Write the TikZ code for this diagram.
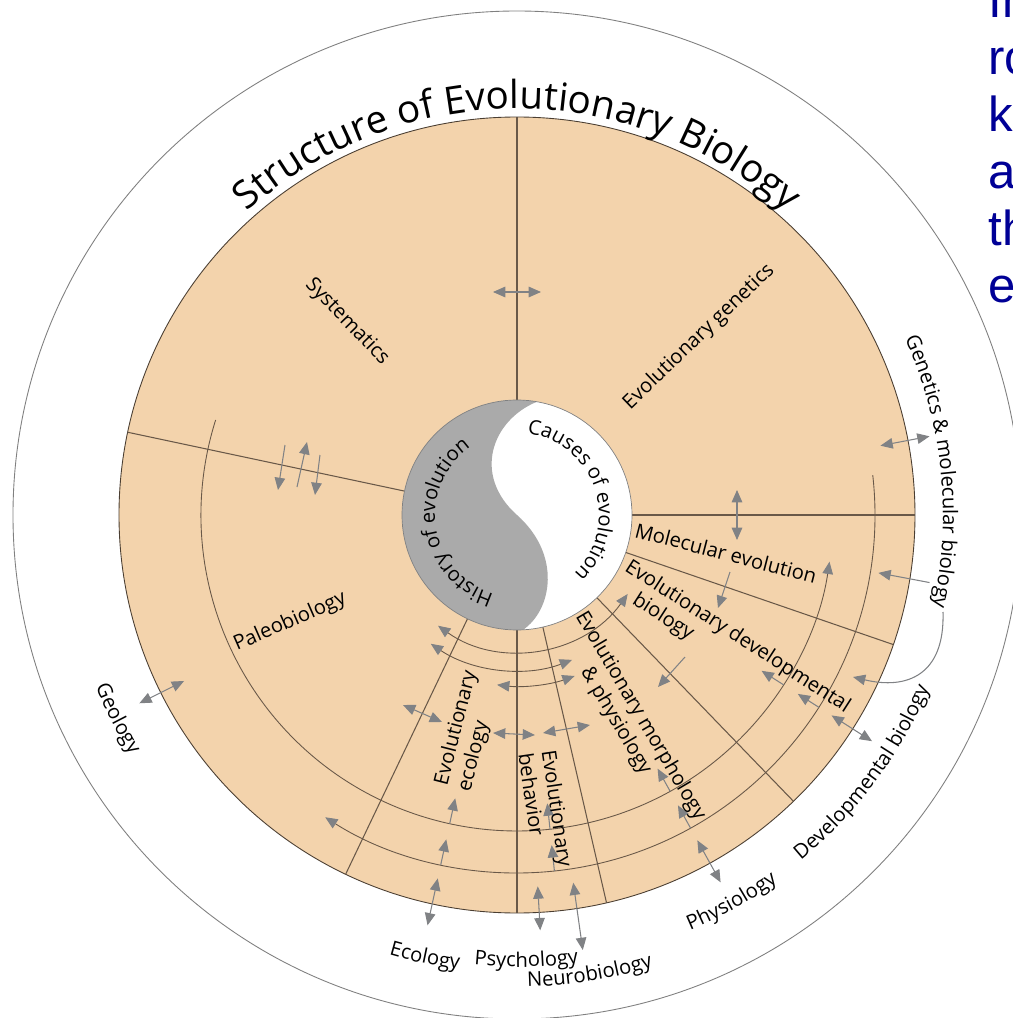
\documentclass[tikz,border=0pt]{standalone}
\usepackage{fontspec}
\setmainfont{Open Sans}
\newfontfamily\notefont{Liberation Sans}
\usetikzlibrary{arrows.meta,decorations.text}

\definecolor{discfill}{RGB}{243,211,172}
\definecolor{rule}{RGB}{105,88,72}
\definecolor{arrowgray}{RGB}{128,130,133}
\definecolor{yingray}{RGB}{170,170,170}
\definecolor{noteblue}{RGB}{0,0,150}
\newcommand\lblfont{\fontsize{11.5}{13.5}\selectfont}
\newcommand\titlefont{\fontsize{22}{26}\selectfont}

\begin{document}
\begin{tikzpicture}[x=0.02cm,y=0.02cm,>={Triangle[length=7pt,width=6pt,color=arrowgray]}]
\tikzstyle{divider} = [draw=rule, line width=.6pt]
\tikzstyle{track} = [draw=rule, line width=.5pt]
\tikzstyle{link} = [draw=arrowgray, line width=.6pt, <->]
\tikzstyle{feed} = [draw=arrowgray, line width=.6pt, ->]
\tikzstyle{field} = [font=\lblfont, inner sep=0pt, align=left]
\tikzstyle{note} = [font=\notefont\fontsize{28}{32}\selectfont, text=noteblue, inner sep=0pt]
\tikzstyle{ringtext} = [decorate, decoration={text along path, text align=center}]

\useasboundingbox[fill=white] (-517,-503) rectangle (496,515);

% rings
\draw[gray, line width=.5pt] (0,0) circle[radius=504];
\draw[draw=rule!70!black, fill=discfill, line width=.5pt] (0,0) circle[radius=398];

% sector borders
\draw[divider] (90:115) -- (90:398);
\draw[divider] (168:115) -- (168:398);
\draw[divider] (0:115) -- (0:398);
\draw[divider] (-19:115) -- (-19:398);
\draw[divider] (-46:115) -- (-46:398);
\draw[divider] (-77:115) -- (-77:398);
\draw[divider] (-90:115) -- (-90:398);
\draw[divider] (-115.5:115) -- (-115.5:398);

% yin and yang
\fill[white] (0,0) circle[radius=115];
\fill[yingray] (80:115) arc[start angle=80, end angle=273, radius=115]
  .. controls (35,-95) and (45,-40) .. (0,0)
  .. controls (-45,40) and (-25,95) .. cycle;
\draw[gray, line width=.4pt] (0,0) circle[radius=115];
\path[ringtext, decoration={text={|\lblfont|History of evolution}}]
  (269:82) arc[start angle=269, end angle=109, radius=82];
\path[ringtext, decoration={text={|\lblfont|Causes of evolution}}]
  (98.5:82) arc[start angle=98.5, end angle=-61.5, radius=82];

% the two long tracks
\draw[track, ->] (162.5:316) arc[start angle=162.5, end angle=351.5, radius=316];
\draw[track, ->] (6.4:358) arc[start angle=6.4, end angle=-122.4, radius=358];

% inner tracks
\draw[track, <->] (-125.5:136) arc[start angle=-125.5, end angle=-35.5, radius=136];
\draw[track, <->] (-123.8:155) arc[start angle=-123.8, end angle=-69.2, radius=155];
\draw[track, <->] (-96.7:171) arc[start angle=-96.7, end angle=-70.3, radius=171];

% links between fields
\draw[link] (-24,223) -- (24,223);
\draw[feed] (-232,70) -- (-239,25);
\draw[feed] (-220,28) -- (-210,73);
\draw[feed] (-197,60) -- (-202,20);
\draw[link] (-114,-190) -- (-75,-207);
\draw[link] (-24,-218) -- (18,-220);
\draw[link] (26,-218) -- (73,-210);
\draw[feed] (168,-142) -- (141,-172);
\draw[feed] (213,-57) -- (201,-93);
\draw[link] (220,25) -- (220,-25);

% feeds from the tracks and links to outside fields
\draw[feed] (-102.3:316) -- (-102.3:290);
\draw[feed] (-102.3:358) -- (-102.3:332);
\draw[link] (-102.3:372) -- (-102.3:420);
\draw[feed] (-84:316) -- (-84:290);
\draw[feed] (-84:358) -- (-84:332);
\draw[link] (-86.8:372) -- (-86.8:416);
\draw[link] (-81.3:372) -- (-81.4:440);
\draw[feed] (-61:316) -- (-61:290);
\draw[feed] (-61:358) -- (-61:332);
\draw[link] (-61:372) -- (-61:420);
\draw[feed] (-32.5:316) -- (-32.5:290);
\draw[feed] (-32.5:358) -- (-32.5:333);
\draw[link] (-32.5:373) -- (-32.5:421);
\draw[link] (10.8:370) -- (10.8:420);
\draw[feed] (-9.3:418) -- (-9.1:366);
\draw[feed] (426,-97) .. controls (428,-160) and (390,-175) .. (336,-162);
\draw[link] (206.5:372) -- (206.5:422);

% fields
\node[field, rotate=-46] (syst) at (-170,193) {Systematics};
\node[field, rotate=43.8] (evogen) at (182,178) {Evolutionary genetics};
\node[field, rotate=23.7] (paleo) at (-227,-107) {Paleobiology};
\node[field, rotate=-14.5] (molev) at (209,-38) {Molecular evolution};
\node[field, rotate=-32.8] (evodevo) at (214,-132) {Evolutionary developmental\\\hspace*{1.2em}biology};
\node[field, rotate=-59.5] (evomorph) at (113,-207) {Evolutionary morphology\\\hspace*{2.5em}\& physiology};
\node[field, rotate=75.7] (evoeco) at (-49,-216) {Evolutionary\\ecology};
\node[field, rotate=-81.7] (evobeh) at (29,-295) {Evolutionary\\behavior};

% outside fields
\path[ringtext, decoration={text={|\titlefont|Structure of Evolutionary Biology}}]
  (150:406) arc[start angle=150, end angle=30, radius=406];
\path[ringtext, decoration={text={|\lblfont|Genetics {\&} molecular biology}}]
  (40:426) arc[start angle=40, end angle=-28, radius=426];
\path[ringtext, decoration={text={|\lblfont|Geology}}]
  (187:455) arc[start angle=187, end angle=227, radius=455];
\path[ringtext, decoration={text={|\lblfont|Ecology}}]
  (-121.75:458) arc[start angle=-121.75, end angle=-81.75, radius=458];
\path[ringtext, decoration={text={|\lblfont|Psychology}}]
  (-108.8:452) arc[start angle=-108.8, end angle=-68.8, radius=452];
\path[ringtext, decoration={text={|\lblfont|Neurobiology}}]
  (-101:472) arc[start angle=-101, end angle=-61, radius=472];
\path[ringtext, decoration={text={|\lblfont|Physiology}}]
  (-81:450) arc[start angle=-81, end angle=-41, radius=450];
\path[ringtext, decoration={text={|\lblfont|Developmental biology}}]
  (-66.7:447) arc[start angle=-66.7, end angle=-6.7, radius=447];

% slide text cut by the frame
\foreach \w [count=\i] in {In,ro,k,a,th,e}
  \node[note, anchor=base west] (note\i) at (471,554-57*\i) {\w};
\end{tikzpicture}
\end{document}
